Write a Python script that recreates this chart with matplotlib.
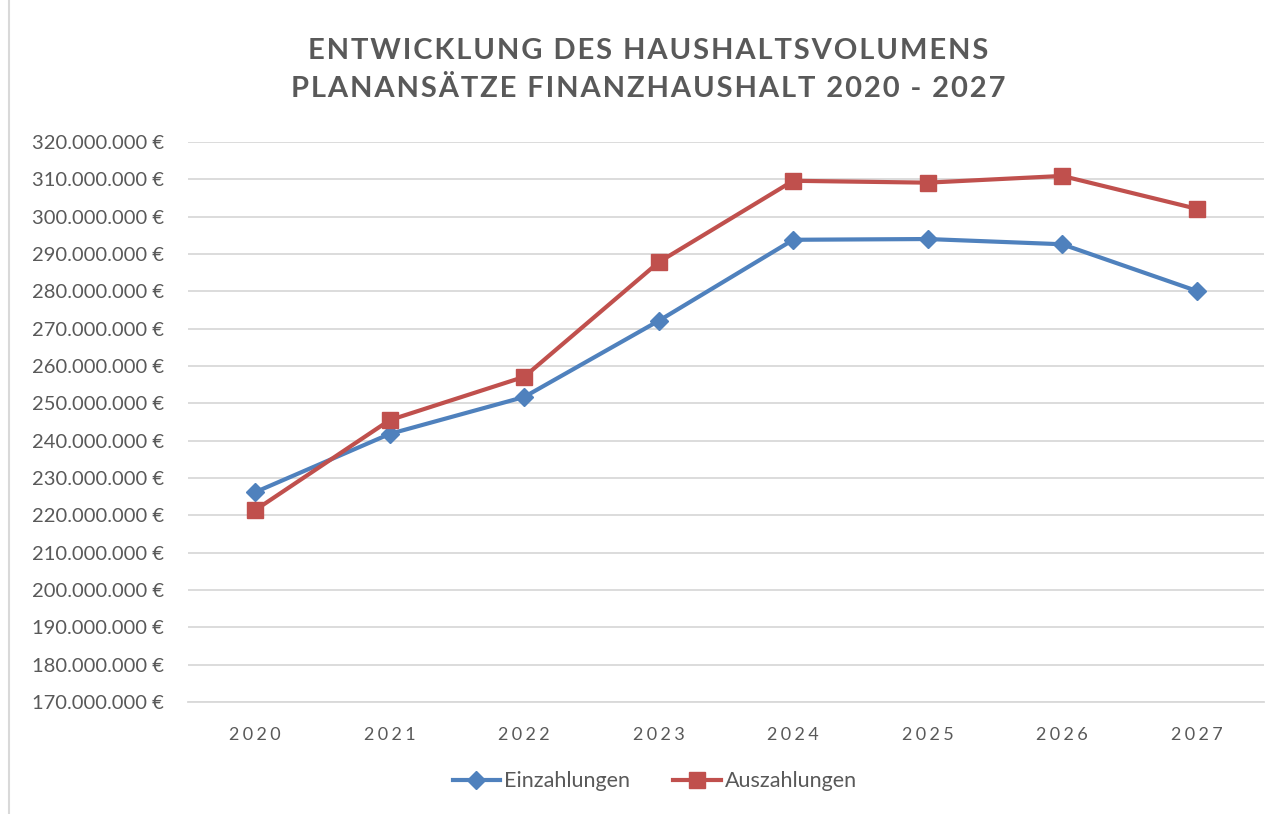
import matplotlib.pyplot as plt
from matplotlib.ticker import FuncFormatter
from matplotlib.lines import Line2D

jahre = ['2020', '2021', '2022', '2023', '2024', '2025', '2026', '2027']
einzahlungen = [226.2, 241.8, 251.7, 272.1, 293.8, 294.0, 292.6, 280.1]  # Mio. €
auszahlungen = [221.4, 245.5, 257.1, 287.8, 309.6, 309.1, 310.9, 302.1]  # Mio. €

blau = '#4F81BD'
rot = '#C0504D'
grau = '#595959'

plt.rcParams['font.family'] = ['Lato', 'DejaVu Sans']

fig = plt.figure(figsize=(12.84, 8.14), dpi=100)
ax = fig.add_axes([0.1464, 0.1376, 0.8380, 0.6880])

x = range(len(jahre))
ax.plot(x, einzahlungen, color=blau, lw=3, marker='D', markersize=9,
        label='Einzahlungen', zorder=3)
ax.plot(x, auszahlungen, color=rot, lw=3, marker='s', markersize=11,
        label='Auszahlungen', zorder=3)

ax.set_xlim(-0.5, len(jahre) - 0.5)
ax.set_ylim(170, 320)
ax.set_yticks(range(170, 321, 10))
ax.yaxis.set_major_formatter(FuncFormatter(
    lambda v, p: '{:,.0f} €'.format(v * 1e6).replace(',', '.')))
ax.set_xticks(list(x))
ax.set_xticklabels(['\u2009\u200a'.join(j) for j in jahre])

ax.grid(axis='y', color='#D9D9D9', lw=1.3)
ax.set_axisbelow(True)
for s in ['top', 'right', 'left']:
    ax.spines[s].set_visible(False)
ax.spines['bottom'].set_color('#D9D9D9')
ax.spines['bottom'].set_linewidth(1.3)
ax.tick_params(axis='both', length=0, colors=grau)
ax.tick_params(axis='y', labelsize=14.5, pad=17)
ax.tick_params(axis='x', labelsize=13, pad=18)

titel = 'ENTWICKLUNG DES HAUSHALTSVOLUMENS\nPLANANSÄTZE FINANZHAUSHALT 2020 - 2027'
titel = '\u200a'.join(titel).replace('\u200a\n\u200a', '\n')
fig.text(0.505, 0.914, titel, ha='center', va='center', fontsize=21,
         fontweight='bold', color=grau, linespacing=1.55)

handles = [Line2D([], [], color=blau, lw=3, marker='D', markersize=9),
           Line2D([], [], color=rot, lw=3, marker='s', markersize=11)]
fig.legend(handles, ['Einzahlungen', 'Auszahlungen'], loc='center',
           bbox_to_anchor=(0.51, 0.04), ncol=2, frameon=False, fontsize=15.5,
           labelcolor=grau, handlelength=2.2, handletextpad=0.2,
           columnspacing=2.0)

fig.add_artist(Line2D([0.007, 0.007], [0, 1], color='#D9D9D9', lw=1.5,
                      transform=fig.transFigure))

fig.savefig('out.png', dpi=100)
